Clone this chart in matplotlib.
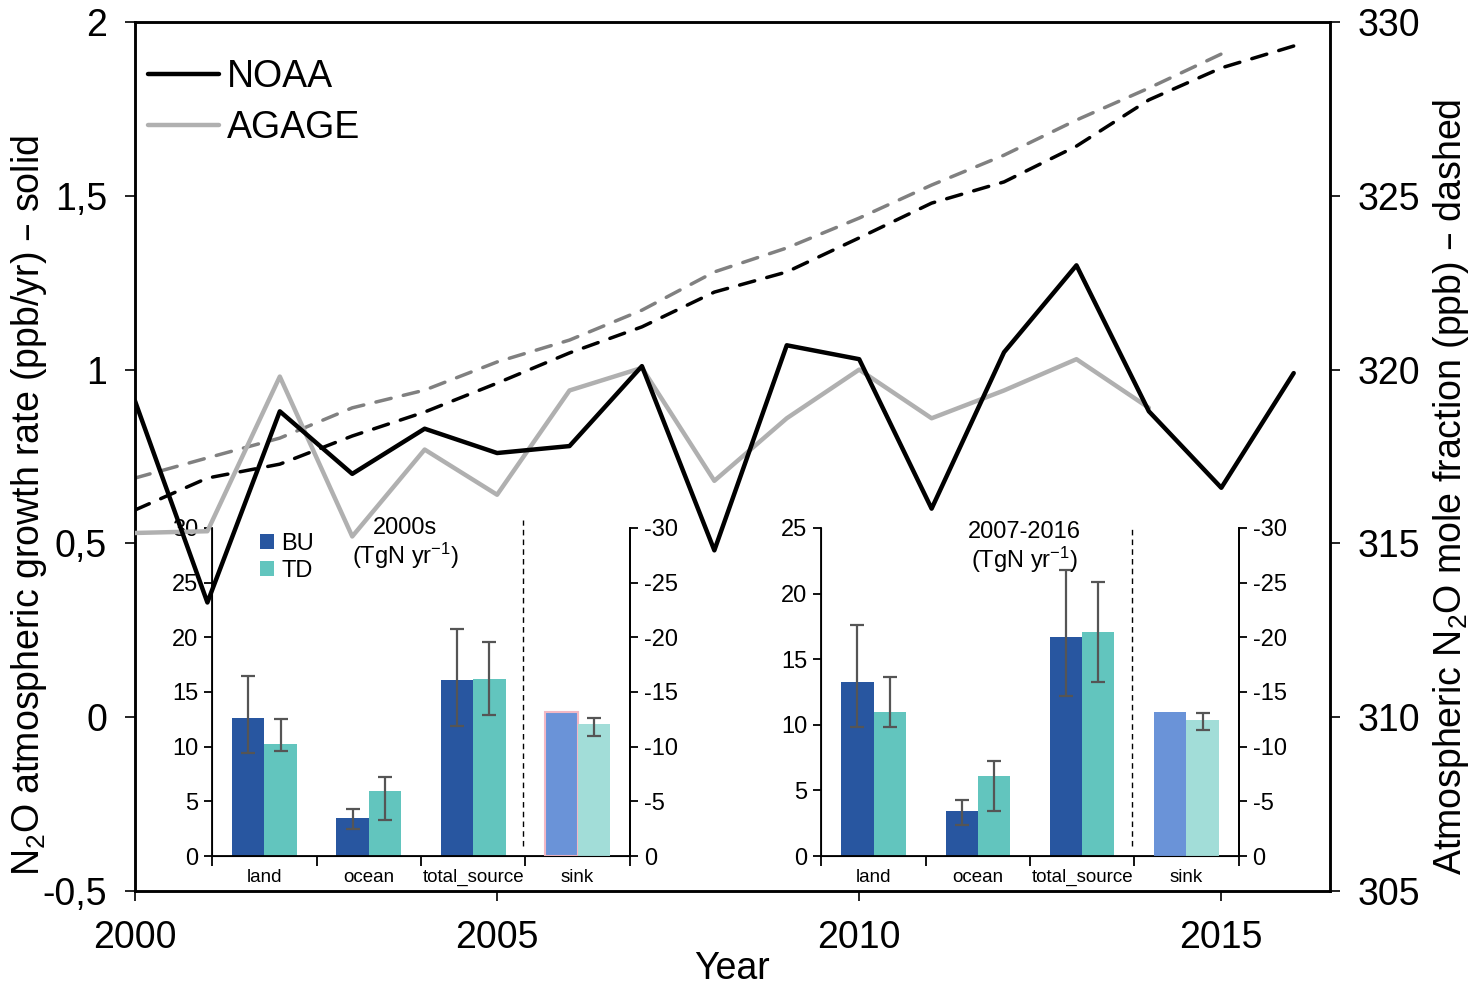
import numpy as np
import matplotlib
matplotlib.use("Agg")
import matplotlib.pyplot as plt
from matplotlib.ticker import FuncFormatter

plt.rcParams['font.family'] = ['Liberation Sans', 'DejaVu Sans']
plt.rcParams['mathtext.default'] = 'regular'
plt.rcParams['axes.unicode_minus'] = False

# --- main chart data ---
years = np.arange(2000, 2017)
noaa_growth = [0.91, 0.33, 0.88, 0.70, 0.83, 0.76, 0.78, 1.01, 0.48, 1.07,
               1.03, 0.60, 1.05, 1.30, 0.88, 0.66, 0.99]
agage_years = np.arange(2000, 2015)
agage_growth = [0.53, 0.535, 0.98, 0.52, 0.77, 0.64, 0.94, 1.005, 0.68, 0.86,
                1.0, 0.86, 0.94, 1.03, 0.89]

noaa_conc = [315.96, 316.88, 317.28, 318.09, 318.78, 319.61, 320.48, 321.23,
             322.23, 322.81, 323.79, 324.79, 325.40, 326.43, 327.76, 328.68, 329.31]
agage_conc_years = np.arange(2000, 2016)
agage_conc = [316.88, 317.46, 318.03, 318.90, 319.41, 320.22, 320.85, 321.71,
              322.81, 323.50, 324.36, 325.31, 326.17, 327.18, 328.10, 329.08]

# --- inset data (TgN/yr) ---
categories = ['land', 'ocean', 'total_source', 'sink']
bu_2000s = [12.6, 3.45, 16.1]
td_2000s = [10.2, 5.9, 16.2]
bu_2000s_lo = [9.4, 2.5, 11.9]
bu_2000s_hi = [16.5, 4.3, 20.8]
td_2000s_lo = [9.6, 3.3, 12.9]
td_2000s_hi = [12.5, 7.2, 19.6]
sink_bu_2000s = -13.2
sink_td_2000s = -12.05
sink_td_2000s_err = (11.47, 13.15)

bu_2007 = [13.25, 3.43, 16.7]
td_2007 = [11.0, 6.07, 17.04]
bu_2007_lo = [9.83, 2.34, 12.16]
bu_2007_hi = [17.57, 4.24, 21.83]
td_2007_lo = [9.8, 3.45, 13.25]
td_2007_hi = [13.63, 7.24, 20.92]
sink_bu_2007 = -13.2
sink_td_2007 = -12.4
sink_td_2007_err = (11.7, 13.3)

c_bu = '#2856a0'
c_td = '#62c5be'
c_sink_bu = '#6a93d8'
c_sink_td = '#a2ddd8'
c_err = '#555555'

fig = plt.figure(figsize=(14.8, 9.88), dpi=100)

ax = fig.add_axes([0.0912, 0.0982, 0.8074, 0.8795])
ax.set_facecolor('none')
ax.set_zorder(3)
ax2 = ax.twinx()
ax2.set_zorder(2)

ax.plot(years, noaa_growth, color='black', lw=3.2, label='NOAA', solid_capstyle='round', zorder=5)
ax.plot(agage_years, agage_growth, color='#b0b0b0', lw=3.2, label='AGAGE', solid_capstyle='round', zorder=4)
ax2.plot(years, noaa_conc, color='black', lw=2.5, ls=(0, (4.5, 3.6)), dash_capstyle='round')
ax2.plot(agage_conc_years, agage_conc, color='#808080', lw=2.5, ls=(0, (4.5, 3.6)), dash_capstyle='round')

ax.set_xlim(2000, 2016.5)
ax.set_ylim(-0.5, 2)
ax2.set_ylim(305, 330)
ax.set_xticks([2000, 2005, 2010, 2015])
ax.set_yticks([-0.5, 0, 0.5, 1, 1.5, 2])
ax.yaxis.set_major_formatter(FuncFormatter(lambda v, p: ('%g' % v).replace('.', ',')))
ax2.set_yticks([305, 310, 315, 320, 325, 330])

ax.tick_params(axis='x', direction='out', length=7, width=1.2, labelsize=27, pad=14)
ax.tick_params(axis='y', direction='out', length=7, width=1.2, labelsize=27, pad=13)
ax2.tick_params(axis='y', direction='out', length=7, width=1.2, labelsize=27, pad=13)
for a in (ax, ax2):
    for s in a.spines.values():
        s.set_linewidth(1.8)

ax.set_xlabel('Year', fontsize=27, labelpad=-4)
ax.set_ylabel('N$_2$O atmospheric growth rate (ppb/yr) – solid', fontsize=27)
ax.yaxis.set_label_coords(-0.072, 0.444)
ax2.set_ylabel('Atmospheric N$_2$O mole fraction (ppb) – dashed', fontsize=27, rotation=90)
ax2.yaxis.set_label_coords(1.085, 0.465)

leg = ax.legend(loc='upper left', bbox_to_anchor=(0.011, 0.957), frameon=False, fontsize=27,
                handlelength=1.9, handletextpad=0.2, labelspacing=0.4, borderaxespad=0, borderpad=0)


def draw_inset(rect, bu, td, bu_lo, bu_hi, td_lo, td_hi, sink_bu, sink_td, sink_err,
               ymax, yticks, title, title_y, title_x, sink_edge, legend, vline_top):
    ia = fig.add_axes(rect)
    ia.set_facecolor('none')
    ia.set_zorder(1)
    w = 0.31
    xc = np.arange(3) + 0.5
    bu = np.array(bu)
    td = np.array(td)
    ia.bar(xc - w / 2, bu, w, color=c_bu, label='BU')
    ia.bar(xc + w / 2, td, w, color=c_td, label='TD')
    ia.errorbar(xc - w / 2, bu, yerr=[bu - np.array(bu_lo), np.array(bu_hi) - bu],
                fmt='none', ecolor=c_err, elinewidth=1.6, capsize=5, capthick=1.6)
    ia.errorbar(xc + w / 2, td, yerr=[td - np.array(td_lo), np.array(td_hi) - td],
                fmt='none', ecolor=c_err, elinewidth=1.6, capsize=5, capthick=1.6)
    ia.set_xlim(0, 4)
    ia.set_ylim(0, ymax)
    ia.set_yticks(yticks)
    ia.set_xticks([0, 1, 2, 3, 4])
    ia.set_xticklabels([])
    ia.set_xticks([0.5, 1.5, 2.5, 3.5], minor=True)
    ia.set_xticklabels(categories, minor=True, fontsize=13.5)
    ia.tick_params(axis='x', which='major', direction='out', length=7, width=1.3)
    ia.tick_params(axis='x', which='minor', length=0, pad=9)
    ia.tick_params(axis='y', direction='out', length=6, width=1.3, labelsize=17, pad=4)
    ia.spines['top'].set_visible(False)
    for s in ('left', 'bottom', 'right'):
        ia.spines[s].set_linewidth(1.3)
    ia.axvline(2.98, ymin=0.03, ymax=vline_top, color='black', lw=1, ls=(0, (4, 3)), clip_on=False)

    ib = ia.twinx()
    ib.set_zorder(1)
    ib.set_ylim(0, -30)
    ib.set_yticks([0, -5, -10, -15, -20, -25, -30])
    ib.tick_params(axis='y', direction='out', length=6, width=1.3, labelsize=17, pad=4)
    ib.spines['top'].set_visible(False)
    ib.spines['right'].set_linewidth(1.3)
    ib.bar(3.5 - w / 2, sink_bu, w, color=c_sink_bu,
           edgecolor=sink_edge if sink_edge else c_sink_bu, linewidth=1.5 if sink_edge else 0)
    ib.bar(3.5 + w / 2, sink_td, w, color=c_sink_td)
    ib.errorbar([3.5 + w / 2], [sink_td], yerr=[[-sink_err[0] - sink_td], [sink_td + sink_err[1]]],
                fmt='none', ecolor=c_err, elinewidth=1.6, capsize=5, capthick=1.6)

    ia.text(title_x, title_y[0], title[0], transform=ia.transAxes, ha='center', va='center', fontsize=17)
    ia.text(title_x, title_y[1], title[1], transform=ia.transAxes, ha='center', va='center', fontsize=17)
    if legend:
        ia.legend(loc='upper left', bbox_to_anchor=(0.115, 0.985), frameon=False, fontsize=17,
                  handlelength=0.6, handleheight=0.6, handletextpad=0.3, labelspacing=0.2,
                  borderaxespad=0, borderpad=0)
    return ia


draw_inset([0.1434, 0.1336, 0.2821, 0.332], bu_2000s, td_2000s, bu_2000s_lo, bu_2000s_hi,
           td_2000s_lo, td_2000s_hi, sink_bu_2000s, sink_td_2000s, sink_td_2000s_err,
           30, [0, 5, 10, 15, 20, 25, 30], ('2000s', '(TgN yr$^{-1}$)'), (1.0, 0.915), 0.462,
           '#f2b8c4', True, 1.025)
draw_inset([0.555, 0.1336, 0.2819, 0.332], bu_2007, td_2007, bu_2007_lo, bu_2007_hi,
           td_2007_lo, td_2007_hi, sink_bu_2007, sink_td_2007, sink_td_2007_err,
           25, [0, 5, 10, 15, 20, 25], ('2007-2016', '(TgN yr$^{-1}$)'), (0.989, 0.902), 0.486,
           None, False, 1.0)

fig.savefig('out.png', dpi=100, facecolor='white')
